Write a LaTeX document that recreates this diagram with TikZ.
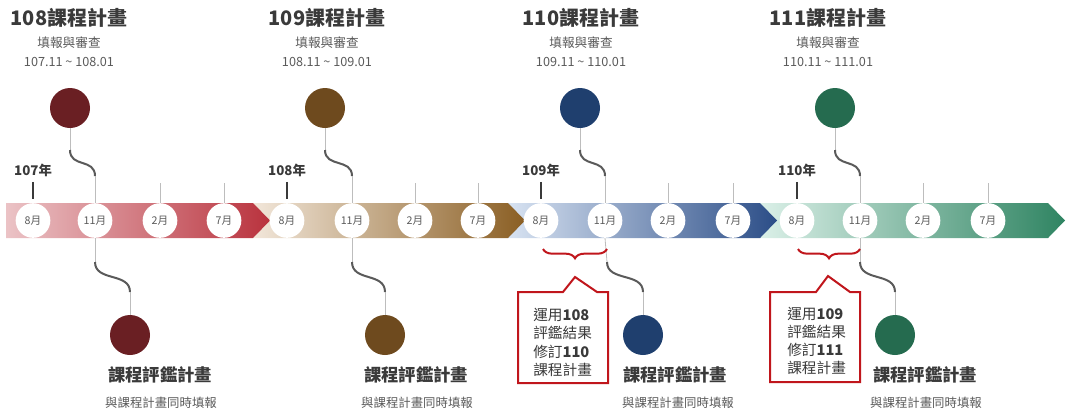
\documentclass[tikz,border=0pt]{standalone}
\usepackage{fontspec}
\setmainfont{Noto Sans CJK TC}
\usepackage{xcolor}
\usepackage{tikz}
\usetikzlibrary{decorations.pathreplacing}
\definecolor{redL}{HTML}{EBC3C6}
\definecolor{redD}{HTML}{B9323D}
\definecolor{brnL}{HTML}{F2E7DA}
\definecolor{brnD}{HTML}{8A5E23}
\definecolor{bluL}{HTML}{D8E3F2}
\definecolor{bluD}{HTML}{2B4D87}
\definecolor{grnL}{HTML}{DBF0E8}
\definecolor{grnD}{HTML}{2F8462}
\definecolor{dotR}{HTML}{6A1F23}
\definecolor{dotB}{HTML}{6E4A1E}
\definecolor{dotN}{HTML}{1F3F6E}
\definecolor{dotG}{HTML}{256B4F}
\definecolor{txtD}{HTML}{3A3A3A}
\definecolor{txtM}{HTML}{5A5A5A}
\definecolor{lineL}{HTML}{BDBDBD}
\definecolor{noteR}{HTML}{C0161C}

\begin{document}
\begin{tikzpicture}[x=0.75pt,y=-0.75pt,
  month/.style={circle,fill=white,minimum size=26pt,inner sep=0pt,text=txtM,font=\fontsize{8}{8}\selectfont},
  dot/.style={circle,minimum size=30pt,inner sep=0pt},
  title/.style={text=txtD,font=\fontsize{15}{15}\selectfont\bfseries},
  sub/.style={text=txtM,font=\fontsize{9.5}{10}\selectfont},
  year/.style={text=txtD,inner sep=1pt,font=\fontsize{10}{10}\selectfont\bfseries},
  evalt/.style={text=txtD,font=\fontsize{13}{13}\selectfont\bfseries},
  evals/.style={text=txtM,font=\fontsize{9.3}{10}\selectfont},
  note/.style={text=txtD,align=left,inner sep=0pt,font=\fontsize{11}{13.7}\selectfont},
  thinline/.style={draw=lineL,line width=0.6pt},
  curve/.style={draw=txtM,line width=1.5pt},
  yeartick/.style={draw=txtD,line width=1pt},
  callout/.style={draw=noteR,line width=1.5pt,line join=miter},
  bracket/.style={draw=noteR,line width=1.5pt,decorate,decoration={brace,mirror,amplitude=7pt}}]
\useasboundingbox (0,0) rectangle (1066,412);

% band, drawn from right to left
\shade[left color=grnL,right color=grnD] (760,203) -- (1048,203) -- (1065,220.5) -- (1048,238) -- (760,238) -- cycle;
\shade[left color=bluL,right color=bluD] (508,203) -- (760,203) -- (777,220.5) -- (760,238) -- (508,238) -- cycle;
\shade[left color=brnL,right color=brnD] (253,203) -- (508,203) -- (525,220.5) -- (508,238) -- (253,238) -- cycle;
\shade[left color=redL,right color=redD] (6,203) -- (253,203) -- (270,220.5) -- (253,238) -- (6,238) -- cycle;

% 108
\node[title] (h1) at (69,18) {108課程計畫};
\node[sub] (s1) at (69,43) {填報與審查};
\node[sub] (d1) at (69,62) {107.11 \textasciitilde{} 108.01};
\node[dot,fill=dotR] (t1) at (70,108) {};
\node[month] (m1a) at (33,220.5) {8月};
\node[month] (m1b) at (95,220.5) {11月};
\node[month] (m1c) at (160,220.5) {2月};
\node[month] (m1d) at (224,220.5) {7月};
\node[year] (y1) at (33,170) {107年};
\draw[yeartick] ([yshift=-3pt]y1.south) -- ([yshift=3pt]m1a.north);
\draw[thinline] (m1c.north) -- ++(0,-20);
\draw[thinline] (m1d.north) -- ++(0,-20);
\coordinate (t1s) at (70,150);
\coordinate (t1e) at (95,176);
\draw[thinline] (t1.south) -- (t1s);
\draw[curve] (t1s) .. controls (70,168) and (95,158) .. (t1e);
\draw[thinline] (t1e) -- (m1b.north);
\node[dot,fill=dotR] (b1) at (130,335) {};
\coordinate (b1s) at (95,262);
\coordinate (b1e) at (130,292);
\draw[thinline] (m1b.south) -- (b1s);
\draw[curve] (b1s) .. controls (95,282) and (130,272) .. (b1e);
\draw[thinline] (b1e) -- (b1.north);
\node[evalt] (e1) at (160,375) {課程評鑑計畫};
\node[evals] (f1) at (161,403) {與課程計畫同時填報};

% 109
\node[title] (h2) at (327,18) {109課程計畫};
\node[sub] (s2) at (327,43) {填報與審查};
\node[sub] (d2) at (327,62) {108.11 \textasciitilde{} 109.01};
\node[dot,fill=dotB] (t2) at (325,108) {};
\node[month] (m2a) at (287,220.5) {8月};
\node[month] (m2b) at (352,220.5) {11月};
\node[month] (m2c) at (415,220.5) {2月};
\node[month] (m2d) at (478,220.5) {7月};
\node[year] (y2) at (287,170) {108年};
\draw[yeartick] ([yshift=-3pt]y2.south) -- ([yshift=3pt]m2a.north);
\draw[thinline] (m2c.north) -- ++(0,-20);
\draw[thinline] (m2d.north) -- ++(0,-20);
\coordinate (t2s) at (325,150);
\coordinate (t2e) at (352,176);
\draw[thinline] (t2.south) -- (t2s);
\draw[curve] (t2s) .. controls (325,168) and (352,158) .. (t2e);
\draw[thinline] (t2e) -- (m2b.north);
\node[dot,fill=dotB] (b2) at (385,335) {};
\coordinate (b2s) at (352,262);
\coordinate (b2e) at (385,292);
\draw[thinline] (m2b.south) -- (b2s);
\draw[curve] (b2s) .. controls (352,282) and (385,272) .. (b2e);
\draw[thinline] (b2e) -- (b2.north);
\node[evalt] (e2) at (416,375) {課程評鑑計畫};
\node[evals] (f2) at (417,403) {與課程計畫同時填報};

% 110
\node[title] (h3) at (581,18) {110課程計畫};
\node[sub] (s3) at (581,43) {填報與審查};
\node[sub] (d3) at (581,62) {109.11 \textasciitilde{} 110.01};
\node[dot,fill=dotN] (t3) at (580,108) {};
\node[month] (m3a) at (541,220.5) {8月};
\node[month] (m3b) at (605,220.5) {11月};
\node[month] (m3c) at (668,220.5) {2月};
\node[month] (m3d) at (733,220.5) {7月};
\node[year] (y3) at (541,170) {109年};
\draw[yeartick] ([yshift=-3pt]y3.south) -- ([yshift=3pt]m3a.north);
\draw[thinline] (m3c.north) -- ++(0,-20);
\draw[thinline] (m3d.north) -- ++(0,-20);
\coordinate (t3s) at (580,150);
\coordinate (t3e) at (605,176);
\draw[thinline] (t3.south) -- (t3s);
\draw[curve] (t3s) .. controls (580,168) and (605,158) .. (t3e);
\draw[thinline] (t3e) -- (m3b.north);
\node[dot,fill=dotN] (b3) at (643,335) {};
\coordinate (b3s) at (607,262);
\coordinate (b3e) at (643,292);
\draw[thinline] (m3b.south) -- (b3s);
\draw[curve] (b3s) .. controls (607,282) and (643,272) .. (b3e);
\draw[thinline] (b3e) -- (b3.north);
\node[evalt] (e3) at (675,375) {課程評鑑計畫};
\node[evals] (f3) at (678,403) {與課程計畫同時填報};
\draw[bracket] (543,249) -- (607,249);
\draw[callout] (518,292) -- (563,292) -- (575,277) -- (597,292) -- (608,292) -- (608,383) -- (518,383) -- cycle;
\node[note,anchor=west] (n3) at (533,342.5) {運用\textbf{108}\\評鑑結果\\修訂\textbf{110}\\課程計畫};

% 111
\node[title] (h4) at (828,18) {111課程計畫};
\node[sub] (s4) at (828,43) {填報與審查};
\node[sub] (d4) at (828,62) {110.11 \textasciitilde{} 111.01};
\node[dot,fill=dotG] (t4) at (835,108) {};
\node[month] (m4a) at (797,220.5) {8月};
\node[month] (m4b) at (860,220.5) {11月};
\node[month] (m4c) at (923,220.5) {2月};
\node[month] (m4d) at (988,220.5) {7月};
\node[year] (y4) at (797,170) {110年};
\draw[yeartick] ([yshift=-3pt]y4.south) -- ([yshift=3pt]m4a.north);
\draw[thinline] (m4c.north) -- ++(0,-20);
\draw[thinline] (m4d.north) -- ++(0,-20);
\coordinate (t4s) at (835,150);
\coordinate (t4e) at (860,176);
\draw[thinline] (t4.south) -- (t4s);
\draw[curve] (t4s) .. controls (835,168) and (860,158) .. (t4e);
\draw[thinline] (t4e) -- (m4b.north);
\node[dot,fill=dotG] (b4) at (895,335) {};
\coordinate (b4s) at (860,262);
\coordinate (b4e) at (895,292);
\draw[thinline] (m4b.south) -- (b4s);
\draw[curve] (b4s) .. controls (860,282) and (895,272) .. (b4e);
\draw[thinline] (b4e) -- (b4.north);
\node[evalt] (e4) at (925,375) {課程評鑑計畫};
\node[evals] (f4) at (926,403) {與課程計畫同時填報};
\draw[bracket] (798,249) -- (860,249);
\draw[callout] (770,292) -- (816,292) -- (828,276) -- (850,292) -- (860,292) -- (860,382) -- (770,382) -- cycle;
\node[note,anchor=west] (n4) at (787,341) {運用\textbf{109}\\評鑑結果\\修訂\textbf{111}\\課程計畫};
\end{tikzpicture}
\end{document}
